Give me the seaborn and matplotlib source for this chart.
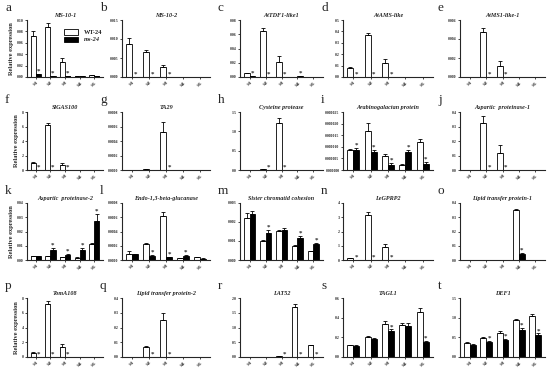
import matplotlib
matplotlib.use("Agg")
import matplotlib.pyplot as plt
import seaborn as sns
import pandas as pd
from matplotlib.patches import Patch

stages = ["S1", "S2", "S3", "S4", "S5"]
letters = list("abcdefghijklmnopqrst")
titles = ["MS-10-1", "MS-10-2", "AtTDF1-like1", "AtAMS-like", "AtMS1-like-1",
          "SlGAS100", "TA29", "Cysteine protease", "Arabinogalactan protein", "Aspartic  proteinase-1",
          "Aspartic  proteinase-2", "Endo-1,3-beta-glucanase", "Sister chromatid cohesion", "LeGPRP2", "Lipid transfer protein-1",
          "TomA108", "Lipid transfer protein-2", "LAT52", "TAGL1", "DEF1"]

wt_mean = [
    [0.072, 0.088, 0.027, 0.001, 0.003],
    [0.0088, 0.0066, 0.0026, 0.00003, 0.00003],
    [0.005, 0.064, 0.021, 0.0003, 0.0005],
    [0.075, 0.365, 0.125, 0.001, 0.001],
    [0.00002, 0.0047, 0.0012, 0.00001, 0.00001],
    [0.9, 6.2, 0.7, 0.01, 0.01],
    [0.000001, 0.000007, 0.00053, 0.000002, 0.000001],
    [0.002, 0.015, 1.22, 0.002, 0.002],
    [8.5e-6, 17e-6, 6.2e-6, 2.0e-6, 12e-6],
    [0.001, 0.325, 0.12, 0.001, 0.001],
    [0.0025, 0.0025, 0.0018, 0.0015, 0.011],
    [0.00009, 0.00023, 0.00062, 0.00003, 0.00004],
    [0.0022, 0.001, 0.00155, 0.00075, 0.00045],
    [0.12, 3.15, 0.9, 0.01, 0.01],
    [0.001, 0.001, 0.002, 0.35, 0.001],
    [0.6, 7.2, 1.3, 0.01, 0.01],
    [0.001, 0.07, 0.25, 0.001, 0.001],
    [0.005, 0.005, 0.04, 1.7, 0.4],
    [0.12, 0.2, 0.34, 0.33, 0.46],
    [0.35, 0.48, 0.62, 0.95, 1.05],
]
wt_err = [
    [0.009, 0.006, 0.006, 0.0005, 0.0005],
    [0.0015, 0.0006, 0.0006, 0, 0],
    [0.001, 0.005, 0.008, 0.0001, 0.0001],
    [0.012, 0.018, 0.03, 0, 0],
    [0, 0.0005, 0.0005, 0, 0],
    [0.15, 0.25, 0.2, 0, 0],
    [0, 0.000002, 0.00013, 0, 0],
    [0, 0.003, 0.12, 0, 0],
    [0.6e-6, 3.3e-6, 0.8e-6, 0.6e-6, 1.5e-6],
    [0, 0.045, 0.05, 0, 0],
    [0.0003, 0.0003, 0.0003, 0.0003, 0.0008],
    [0.00003, 0.00001, 0.00006, 0.000005, 0.000005],
    [0.0003, 0.00005, 0.00005, 0.00005, 0.00002],
    [0.03, 0.25, 0.2, 0, 0],
    [0, 0, 0, 0.01, 0],
    [0.1, 0.4, 0.4, 0, 0],
    [0, 0.004, 0.045, 0, 0],
    [0, 0, 0.01, 0.08, 0.02],
    [0.005, 0.01, 0.03, 0.02, 0.04],
    [0.02, 0.02, 0.04, 0.02, 0.04],
]
ms_mean = [
    [0.005, 0.002, 0.001, 0.002, 0.001],
    [0.00003, 0.00003, 0.00003, 0.00002, 0.00002],
    [0.001, 0.0005, 0.0003, 0.001, 0.0003],
    [0.001, 0.001, 0.001, 0.001, 0.001],
    [0.00004, 0.00001, 0.00001, 0.00001, 0.00001],
    [0.01, 0.01, 0.01, 0.01, 0.01],
    [0.000001, 0.000001, 0.000001, 0.000001, 0.000001],
    [0.002, 0.002, 0.002, 0.002, 0.002],
    [8.8e-6, 7.8e-6, 2.3e-6, 7.6e-6, 2.8e-6],
    [0.001, 0.001, 0.001, 0.001, 0.001],
    [0.0025, 0.007, 0.0035, 0.007, 0.0275],
    [0.00008, 0.00006, 0.00004, 0.00006, 0.00002],
    [0.0024, 0.0014, 0.0016, 0.00115, 0.00085],
    [0.01, 0.01, 0.01, 0.01, 0.01],
    [0, 0, 0, 0.045, 0],
    [0.01, 0.01, 0.01, 0.01, 0.01],
    [0.001, 0.001, 0.001, 0.001, 0.001],
    [0.005, 0.005, 0.005, 0.005, 0.005],
    [0.115, 0.18, 0.26, 0.32, 0.15],
    [0.3, 0.38, 0.42, 0.68, 0.57],
]
ms_err = [
    [0.001, 0.0005, 0.0003, 0.0003, 0.0002],
    [0, 0, 0, 0, 0],
    [0.0002, 0.0001, 0.0001, 0.0002, 0.0001],
    [0, 0, 0, 0, 0],
    [0, 0, 0, 0, 0],
    [0, 0, 0, 0, 0],
    [0, 0, 0, 0, 0],
    [0, 0, 0, 0, 0],
    [0.8e-6, 1.0e-6, 0.8e-6, 1.2e-6, 0.7e-6],
    [0, 0, 0, 0, 0],
    [0.0003, 0.0015, 0.0008, 0.0015, 0.005],
    [0.00001, 0.00001, 0.000005, 0.00001, 0.000003],
    [0.0002, 0.0002, 0.0001, 0.0001, 0.00005],
    [0, 0, 0, 0, 0],
    [0, 0, 0, 0.005, 0],
    [0, 0, 0, 0, 0],
    [0, 0, 0, 0, 0],
    [0, 0, 0, 0, 0],
    [0.005, 0.01, 0.02, 0.025, 0.01],
    [0.02, 0.02, 0.03, 0.06, 0.03],
]
stars = [[0, 1, 2], [0, 1, 2], [0, 1, 2, 3], [0, 1, 2], [1, 2],
         [0, 1, 2], [2], [1, 2], [0, 1, 2, 3, 4], [1, 2],
         [1, 2, 3, 4], [1, 2, 3], [1, 3, 4], [0, 1, 2], [3],
         [0, 1, 2], [1, 2], [2, 3, 4], [2, 4], [1, 2, 3, 4]]
yticks = [
    [0, 0.02, 0.04, 0.06, 0.08, 0.10], [0, 0.005, 0.010, 0.015], [0, 0.02, 0.04, 0.06, 0.08],
    [0, 0.1, 0.2, 0.3, 0.4, 0.5], [0, 0.002, 0.004, 0.006],
    [0, 2, 4, 6, 8], [0, 0.0002, 0.0004, 0.0006, 0.0008], [0, 0.5, 1.0, 1.5],
    [0, 5e-6, 10e-6, 15e-6, 20e-6, 25e-6], [0, 0.1, 0.2, 0.3, 0.4],
    [0, 0.01, 0.02, 0.03, 0.04], [0, 0.0002, 0.0004, 0.0006, 0.0008], [0, 0.001, 0.002, 0.003],
    [0, 1, 2, 3, 4], [0, 0.1, 0.2, 0.3, 0.4],
    [0, 2, 4, 6, 8], [0, 0.1, 0.2, 0.3, 0.4], [0, 0.5, 1.0, 1.5, 2.0],
    [0, 0.2, 0.4, 0.6], [0, 0.5, 1.0, 1.5],
]
ytick_fmt = ["%.2f", "%.3f", "%.2f", "%.1f", "%.3f",
             "%d", "%.4f", "%.1f", "%.6f", "%.1f",
             "%.2f", "%.4f", "%.3f", "%d", "%.1f",
             "%d", "%.1f", "%.1f", "%.1f", "%.1f"]
genotypes = ["WT-24", "ms-24"]

serif = ["Liberation Serif", "DejaVu Serif"]
sns.set_theme(style="ticks")
plt.rcParams["font.family"] = serif

W, H = 550, 369
fig = plt.figure(figsize=(5.5, 3.69), dpi=100)
col_l = [27, 122, 240, 343, 460]
col_r = [103, 210, 323, 433, 545]
row_t = [20, 112, 203, 298]
row_b = [77, 170, 260, 357]

for i in range(20):
    r, c = divmod(i, 5)
    ax = fig.add_axes([col_l[c] / W, 1 - row_b[r] / H,
                       (col_r[c] - col_l[c]) / W, (row_b[r] - row_t[r]) / H])
    df = pd.DataFrame({
        "stage": stages * 2,
        "genotype": [genotypes[0]] * 5 + [genotypes[1]] * 5,
        "value": wt_mean[i] + ms_mean[i],
    })
    sns.barplot(data=df, x="stage", y="value", hue="genotype", hue_order=genotypes,
                palette=["white", "black"], edgecolor="black", linewidth=0.6,
                width=0.7, errorbar=None, legend=False, ax=ax)
    bars = ax.patches[:10]
    errs = wt_err[i] + ms_err[i]
    xs = [b.get_x() + b.get_width() / 2 for b in bars]
    hs = [b.get_height() for b in bars]
    ax.errorbar(xs, hs, yerr=[[0] * 10, errs], fmt="none", ecolor="black",
                elinewidth=0.6, capsize=1.2, capthick=0.6)
    top = yticks[i][-1]
    for k in stars[i]:
        j = 5 + k
        ax.text(xs[j], hs[j] + errs[j] + top * 0.005, "*", ha="center", va="bottom",
                fontsize=5, fontweight="bold")
    ax.set_ylim(0, top)
    ax.set_xlim(-0.6, 4.6)
    ax.set_yticks(yticks[i])
    ax.set_yticklabels([ytick_fmt[i] % v for v in yticks[i]], fontsize=2.8, fontweight="bold")
    ax.set_xticks(range(5))
    ax.set_xticklabels(stages, rotation=45, fontsize=3.8, fontweight="bold")
    ax.tick_params(length=1.5, width=0.6, pad=1)
    for s in ["left", "bottom"]:
        ax.spines[s].set_linewidth(0.8)
    sns.despine(ax=ax)
    ax.set_xlabel("")
    if c == 0:
        ax.set_ylabel("Relative expression", fontsize=4.6, fontweight="bold", labelpad=2)
    else:
        ax.set_ylabel("")
    ax.set_title(titles[i], fontsize=4.4, fontweight="bold", style="italic", pad=2)
    fig.text((col_l[c] - 22) / W, 1 - (row_t[r] - 12) / H, letters[i], fontsize=9.5,
             ha="left", va="center")
    if i == 0:
        handles = [Patch(facecolor="white", edgecolor="black", linewidth=0.6),
                   Patch(facecolor="black", edgecolor="black", linewidth=0.6)]
        leg = ax.legend(handles, genotypes, loc="upper right", bbox_to_anchor=(1.02, 0.88),
                        frameon=False, fontsize=4.6, handlelength=2.2, handleheight=0.9,
                        borderaxespad=0, labelspacing=0.2)
        for t in leg.get_texts():
            t.set_fontweight("bold")
        leg.get_texts()[1].set_style("italic")

fig.savefig("out.png", dpi=100)
